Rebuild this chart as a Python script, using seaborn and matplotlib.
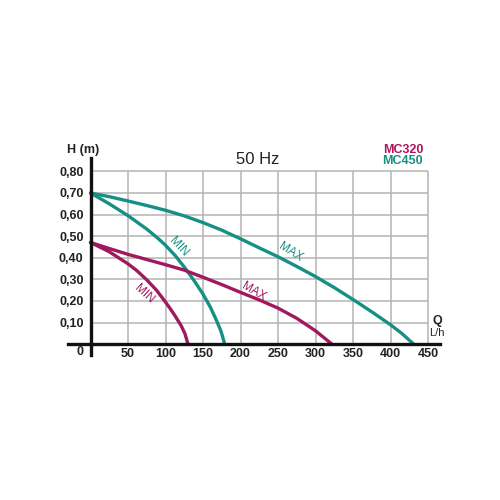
import pandas as pd
import seaborn as sns
import matplotlib.pyplot as plt

# curves: Q (L/h) -> H (m)
q_450_max = [0, 25, 50, 75, 100, 125, 150, 175, 200, 225, 250, 275, 300, 325, 350, 375, 400, 415, 431]
h_450_max = [0.70, 0.683, 0.663, 0.642, 0.62, 0.594, 0.563, 0.528, 0.488, 0.446, 0.405, 0.36, 0.313, 0.262, 0.207, 0.15, 0.09, 0.05, 0.0]

q_450_min = [0, 25, 50, 75, 90, 100, 113, 126, 138, 150, 160, 168, 174, 179]
h_450_min = [0.70, 0.65, 0.595, 0.533, 0.49, 0.458, 0.41, 0.353, 0.295, 0.232, 0.17, 0.11, 0.06, 0.0]

q_320_max = [0, 25, 50, 75, 100, 125, 150, 175, 200, 225, 250, 275, 300, 322]
h_320_max = [0.471, 0.443, 0.416, 0.392, 0.368, 0.343, 0.31, 0.276, 0.24, 0.205, 0.167, 0.12, 0.062, 0.0]

q_320_min = [0, 25, 50, 62, 75, 88, 100, 106, 113, 121, 126, 130]
h_320_min = [0.471, 0.428, 0.372, 0.34, 0.298, 0.25, 0.195, 0.166, 0.13, 0.085, 0.048, 0.0]

x_ticks = [50, 100, 150, 200, 250, 300, 350, 400, 450]
y_ticks = [0.1, 0.2, 0.3, 0.4, 0.5, 0.6, 0.7, 0.8]
y_labels = ["0,10", "0,20", "0,30", "0,40", "0,50", "0,60", "0,70", "0,80"]

teal = "#168f85"
magenta = "#a0195f"

frames = []
for name, q, h in [("MC450 MAX", q_450_max, h_450_max),
                   ("MC450 MIN", q_450_min, h_450_min),
                   ("MC320 MAX", q_320_max, h_320_max),
                   ("MC320 MIN", q_320_min, h_320_min)]:
    frames.append(pd.DataFrame({"Q": q, "H": h, "curve": name}))
df = pd.concat(frames, ignore_index=True)

sns.set_style("white")
plt.rcParams["font.family"] = ["Liberation Sans", "DejaVu Sans"]

fig = plt.figure(figsize=(5, 5), dpi=100)
ax = fig.add_axes([0.136, 0.29, 0.744, 0.394])
ax.set_xlim(-30, 466)
ax.set_ylim(-0.05, 0.862)

# grid
ax.vlines(x_ticks, 0, 0.8, color="#b4b4b4", linewidth=1.1, zorder=1)
ax.hlines(y_ticks, 0, 450, color="#b4b4b4", linewidth=1.1, zorder=1)

palette = {"MC450 MAX": teal, "MC450 MIN": teal, "MC320 MAX": magenta, "MC320 MIN": magenta}
sns.lineplot(data=df, x="Q", y="H", hue="curve", palette=palette, sort=False,
             linewidth=2.4, legend=False, ax=ax, zorder=3)
for line in ax.lines:
    line.set_solid_joinstyle("round")

# axes through the origin
for side in ["top", "right"]:
    ax.spines[side].set_visible(False)
ax.spines["bottom"].set_position(("data", 0))
ax.spines["left"].set_position(("data", 0))
for side in ["bottom", "left"]:
    ax.spines[side].set_linewidth(2.4)
    ax.spines[side].set_color("#111111")
    ax.spines[side].set_zorder(4)

ax.set_xticks(x_ticks)
ax.set_xticklabels([str(v) for v in x_ticks])
ax.set_yticks(y_ticks)
ax.set_yticklabels(y_labels)
ax.tick_params(length=0, labelsize=9, colors="#222222")
ax.tick_params(axis="x", pad=3)
ax.tick_params(axis="y", pad=5)
for lab in ax.get_xticklabels() + ax.get_yticklabels():
    lab.set_fontweight("bold")
ax.set_xlabel("")
ax.set_ylabel("")

ax.text(-14, -0.035, "0", ha="center", va="center", fontsize=9, fontweight="bold", color="#222222")

# curve labels
lab_kw = dict(ha="center", va="center", fontsize=8.5)
ax.text(117, 0.45, "MIN", color=teal, rotation=-47, **lab_kw)
ax.text(71, 0.234, "MIN", color=magenta, rotation=-42, **lab_kw)
ax.text(218, 0.243, "MAX", color=magenta, rotation=-30, **lab_kw)
ax.text(266, 0.427, "MAX", color=teal, rotation=-32, **lab_kw)

# titles and annotations
fig.text(258 / 500, 1 - 159 / 500, "50 Hz", ha="center", va="center", fontsize=12, color="#222222")
fig.text(83 / 500, 1 - 150 / 500, "H (m)", ha="center", va="center", fontsize=9, fontweight="bold", color="#222222")
fig.text(423 / 500, 1 - 150.5 / 500, "MC320", ha="right", va="center", fontsize=9, fontweight="bold", color="#b0145f")
fig.text(423 / 500, 1 - 161 / 500, "MC450", ha="right", va="center", fontsize=9, fontweight="bold", color=teal)
fig.text(437 / 500, 1 - 321 / 500, "Q", ha="center", va="center", fontsize=9, fontweight="bold", color="#222222")
fig.text(437 / 500, 1 - 333 / 500, "L/h", ha="center", va="center", fontsize=8, color="#222222")

fig.savefig("out.png", dpi=100, facecolor="white")
